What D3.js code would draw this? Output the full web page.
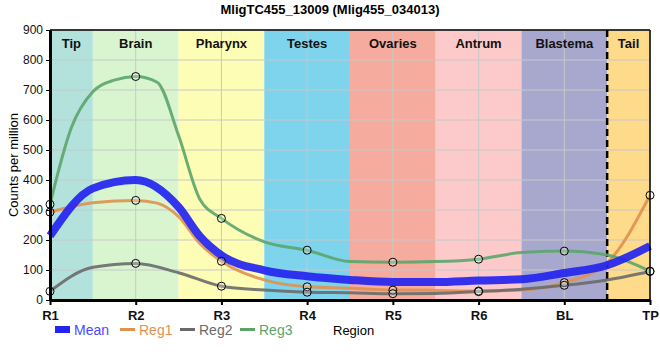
<!DOCTYPE html>
<html><head><meta charset="utf-8">
<script src="https://cdn.jsdelivr.net/npm/d3@7"></script>
<style>body{margin:0;background:#fff}svg{display:block}text{font-family:"Liberation Sans",Arial,sans-serif}</style>
</head><body><svg id="c" width="660" height="360"></svg>
<script>
const categories = ["R1","R2","R3","R4","R5","R6","BL","TP"];
// values at the sampled regions (circles)
const meanVals = [214, 400, 149, 79, 60, 65, 90, 180];
const reg1 = [293, 332, 129, 44, 33, 30, 58, 349];
const reg2 = [29, 122, 46, 26, 21, 28, 49, 95];
const reg3 = [319, 745, 272, 166, 126, 136, 163, 96];
// curve values read between the regions: [position in category steps, value]
const meanBetween = [[0.5,372],[1.5,310],[1.75,212],[2.5,99],[3.5,67],[4.5,60],[5.5,69],[6.5,116]];
const reg1Between = [[0.5,324],[1.25,323],[1.5,278],[1.75,188],[2.5,67],[3.5,39],[4.5,32],[5.5,33],[6.5,124]];
const reg2Between = [[0.5,109],[1.5,91],[2.5,33],[3.5,24],[4.5,22],[5.5,36],[6.5,67]];
const reg3Between = [[0.25,575],[0.5,694],[0.75,733],[1.25,726],[1.5,548],[1.75,335],[2.5,194],[3.5,128],[4.5,128],[5.5,158],[6.5,150]];
const regions = ["Tip","Brain","Pharynx","Testes","Ovaries","Antrum","Blastema","Tail"];
const regionColors = ["#b3e2dd","#d8f5d0","#fefdb6","#7dd4ec","#f5ab9e","#fdcacb","#a8a8ce","#fedb8a"];
const yTicks = [0,100,200,300,400,500,600,700,800,900];
const seriesNames = ["Mean","Reg1","Reg2","Reg3"];
const seriesColors = ["#2424f0","#e0914f","#6a6a6a","#5ba56b"];

const svg = d3.select("#c");
const L=50,R=650,T=30,B=300;
const x = d3.scalePoint().domain(categories).range([L,R]);
const xc = d3.scaleLinear().domain([0,categories.length-1]).range([L,R]);
const y = d3.scaleLinear().domain([0,900]).range([B,T]);

// bands
const g = svg.append("g");
regions.forEach((r,i)=>{
  const x0 = xc(Math.max(0,i-0.5)), x1 = xc(Math.min(categories.length-1,i+0.5));
  g.append("rect").attr("x",x0).attr("y",T).attr("width",x1-x0).attr("height",B-T).attr("fill",regionColors[i]);
  svg.append("text").attr("x",(x0+x1)/2).attr("y",T+18).attr("text-anchor","middle")
    .attr("font-size",13).attr("font-weight","bold").attr("fill","#111").text(r);
});
// grid
yTicks.forEach(v=>{
  g.append("line").attr("x1",L).attr("x2",R).attr("y1",y(v)).attr("y2",y(v)).attr("stroke","#c8c8c8").attr("stroke-width",1);
});
categories.forEach(c=>{
  g.append("line").attr("x1",x(c)).attr("x2",x(c)).attr("y1",T).attr("y2",B).attr("stroke","#c8c8c8").attr("stroke-width",1);
});
// dashed separator
const dashX = xc(categories.length-1.5);
svg.append("line").attr("x1",dashX).attr("x2",dashX).attr("y1",T).attr("y2",B)
  .attr("stroke","#000").attr("stroke-width",2.5).attr("stroke-dasharray","7,4");

// lines
function knots(vals, between){
  return vals.map((v,i)=>[i,v]).concat(between).sort((a,b)=>a[0]-b[0]);
}
const line = d3.line().x(d=>xc(d[0])).y(d=>y(d[1])).curve(d3.curveMonotoneX);
const data = [meanVals,reg1,reg2,reg3];
const betweens = [meanBetween,reg1Between,reg2Between,reg3Between];
const widths = [8,3,3,3];
[1,2,3,0].forEach(k=>{
  svg.append("path").attr("d",line(knots(data[k],betweens[k]))).attr("fill","none")
    .attr("stroke",seriesColors[k]).attr("stroke-width",widths[k]).attr("stroke-opacity",k===0?0.92:0.9)
    .attr("stroke-linecap","butt");
});
// points
[1,2,3].forEach(k=>{
  svg.append("g").selectAll("circle").data(data[k]).join("circle")
    .attr("cx",(d,i)=>x(categories[i])).attr("cy",d=>y(d)).attr("r",4)
    .attr("fill","rgba(255,255,255,0.25)").attr("stroke","#000").attr("stroke-width",1);
});

// frame
svg.append("line").attr("x1",L).attr("x2",R).attr("y1",T).attr("y2",T).attr("stroke","#000").attr("stroke-width",1.5);
svg.append("line").attr("x1",R).attr("x2",R).attr("y1",T).attr("y2",B).attr("stroke","#000").attr("stroke-width",1.5);

// axes
const ya = svg.append("g").attr("transform",`translate(${L},0)`)
  .call(d3.axisLeft(y).tickValues(yTicks).tickSize(4).tickSizeOuter(0));
ya.select(".domain").attr("stroke-width",3);
ya.selectAll("text").attr("font-size",12).attr("fill","#111").attr("font-family","Liberation Sans, Arial, sans-serif");
const xa = svg.append("g").attr("transform",`translate(0,${B})`)
  .call(d3.axisBottom(x).tickSize(5).tickSizeOuter(0));
xa.select(".domain").attr("stroke-width",3);
xa.selectAll(".tick line").attr("stroke-width",2);
xa.selectAll("text").attr("font-size",13).attr("font-weight","bold").attr("fill","#111").attr("dy","0.9em")
  .attr("font-family","Liberation Sans, Arial, sans-serif");

// title
svg.append("text").attr("x",330).attr("y",14).attr("text-anchor","middle").attr("font-size",13).attr("font-weight","bold").text("MligTC455_13009 (Mlig455_034013)");
svg.append("text").attr("transform","translate(18,165) rotate(-90)").attr("text-anchor","middle").attr("font-size",13).text("Counts per million");
svg.append("text").attr("x",333).attr("y",335).attr("font-size",13).text("Region");

// legend
const legX = [55,120,180,240];
seriesNames.forEach((n,k)=>{
  if(k===0){
    svg.append("rect").attr("x",legX[k]).attr("y",326).attr("width",15).attr("height",7).attr("fill",seriesColors[k]);
  } else {
    svg.append("line").attr("x1",legX[k]).attr("x2",legX[k]+15).attr("y1",329.5).attr("y2",329.5).attr("stroke",seriesColors[k]).attr("stroke-width",3);
  }
  svg.append("text").attr("x",legX[k]+19).attr("y",335).attr("font-size",14).attr("font-family","Roboto, sans-serif")
    .attr("font-weight",500).attr("fill",k===0?"#4a4aff":seriesColors[k]).text(n);
});
</script></body></html>
